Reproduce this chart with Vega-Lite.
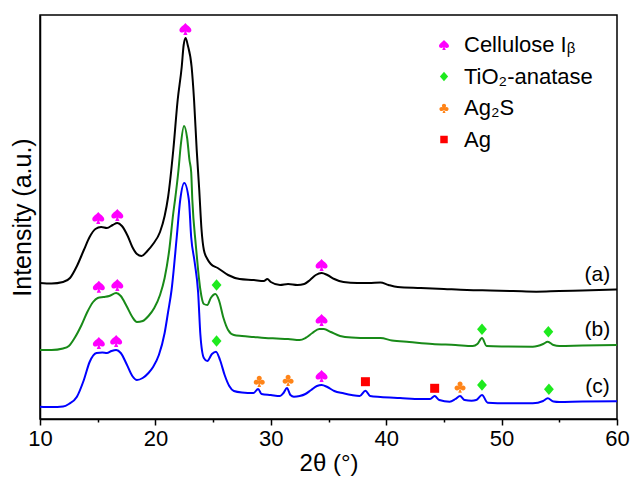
{
  "$schema": "https://vega.github.io/schema/vega-lite/v6.json",
  "width": 577,
  "height": 404,
  "autosize": {"type": "none"},
  "padding": {"left": 40, "top": 15, "right": 16, "bottom": 69},
  "config": {
    "font": "Liberation Sans",
    "view": {"stroke": "black", "strokeWidth": 1.5}
  },
  "datasets": {
    "curves": [
      {"s":"a","x":10,"y":136},{"s":"a","x":11,"y":135.5},{"s":"a","x":12,"y":137},{"s":"a","x":12.6,"y":141},{"s":"a","x":13.2,"y":153},{"s":"a","x":13.8,"y":169},{"s":"a","x":14.3,"y":182},{"s":"a","x":14.8,"y":190},{"s":"a","x":15.3,"y":192},{"s":"a","x":15.8,"y":191},{"s":"a","x":16.3,"y":194},{"s":"a","x":16.7,"y":196},{"s":"a","x":17.1,"y":193},{"s":"a","x":17.6,"y":183},{"s":"a","x":18.0,"y":172},{"s":"a","x":18.4,"y":165},{"s":"a","x":18.8,"y":163},{"s":"a","x":19.3,"y":168},{"s":"a","x":19.8,"y":175},{"s":"a","x":20.4,"y":187},{"s":"a","x":20.8,"y":203},{"s":"a","x":21.1,"y":222},{"s":"a","x":21.55,"y":269},{"s":"a","x":21.93,"y":319},{"s":"a","x":22.28,"y":352},{"s":"a","x":22.45,"y":374},{"s":"a","x":22.62,"y":381},{"s":"a","x":22.8,"y":374},{"s":"a","x":23.14,"y":352},{"s":"a","x":23.35,"y":319},{"s":"a","x":23.58,"y":269},{"s":"a","x":23.8,"y":229},{"s":"a","x":24.0,"y":189},{"s":"a","x":24.2,"y":169},{"s":"a","x":24.5,"y":160},{"s":"a","x":24.8,"y":155},{"s":"a","x":25.4,"y":151},{"s":"a","x":26.3,"y":144},{"s":"a","x":27.3,"y":140},{"s":"a","x":28.5,"y":139},{"s":"a","x":29.4,"y":138},{"s":"a","x":29.7,"y":140},{"s":"a","x":30.0,"y":137},{"s":"a","x":30.8,"y":134},{"s":"a","x":31.5,"y":135},{"s":"a","x":32.3,"y":134},{"s":"a","x":32.9,"y":135},{"s":"a","x":33.4,"y":139},{"s":"a","x":33.9,"y":144},{"s":"a","x":34.4,"y":146},{"s":"a","x":34.9,"y":144},{"s":"a","x":35.5,"y":140},{"s":"a","x":36.3,"y":137},{"s":"a","x":37.5,"y":136},{"s":"a","x":38.5,"y":136},{"s":"a","x":39.5,"y":136.5},{"s":"a","x":40.2,"y":134},{"s":"a","x":41,"y":132},{"s":"a","x":43,"y":131},{"s":"a","x":45,"y":130},{"s":"a","x":47,"y":129},{"s":"a","x":49,"y":128.5},{"s":"a","x":51,"y":128},{"s":"a","x":53,"y":127.3},{"s":"a","x":55,"y":128},{"s":"a","x":57,"y":128.5},{"s":"a","x":60,"y":129.5},
      {"s":"b","x":10,"y":69},{"s":"b","x":11,"y":69},{"s":"b","x":12,"y":70.5},{"s":"b","x":12.5,"y":73},{"s":"b","x":13,"y":81},{"s":"b","x":13.6,"y":94},{"s":"b","x":14.1,"y":107},{"s":"b","x":14.6,"y":117},{"s":"b","x":15.0,"y":121},{"s":"b","x":15.5,"y":122},{"s":"b","x":16.0,"y":123},{"s":"b","x":16.6,"y":126},{"s":"b","x":17.0,"y":123},{"s":"b","x":17.5,"y":113},{"s":"b","x":18.0,"y":102},{"s":"b","x":18.4,"y":97},{"s":"b","x":18.9,"y":98},{"s":"b","x":19.4,"y":103},{"s":"b","x":19.9,"y":111},{"s":"b","x":20.4,"y":124},{"s":"b","x":20.8,"y":141},{"s":"b","x":21.2,"y":169},{"s":"b","x":21.55,"y":206},{"s":"b","x":21.7,"y":219},{"s":"b","x":22.0,"y":249},{"s":"b","x":22.2,"y":274},{"s":"b","x":22.48,"y":293},{"s":"b","x":22.75,"y":281},{"s":"b","x":22.95,"y":259},{"s":"b","x":23.1,"y":247},{"s":"b","x":23.2,"y":219},{"s":"b","x":23.5,"y":174},{"s":"b","x":23.7,"y":149},{"s":"b","x":23.9,"y":129},{"s":"b","x":24.2,"y":115},{"s":"b","x":24.5,"y":114},{"s":"b","x":24.8,"y":121},{"s":"b","x":25.2,"y":125},{"s":"b","x":25.5,"y":119},{"s":"b","x":25.9,"y":101},{"s":"b","x":26.3,"y":89},{"s":"b","x":26.8,"y":84},{"s":"b","x":27.5,"y":83},{"s":"b","x":28.5,"y":82},{"s":"b","x":29.5,"y":81},{"s":"b","x":30.5,"y":80.5},{"s":"b","x":31.5,"y":80},{"s":"b","x":32.5,"y":79},{"s":"b","x":33.0,"y":81},{"s":"b","x":33.6,"y":86},{"s":"b","x":34.2,"y":90},{"s":"b","x":34.6,"y":90},{"s":"b","x":35.2,"y":87},{"s":"b","x":36.0,"y":83},{"s":"b","x":37.0,"y":81.5},{"s":"b","x":38.5,"y":81},{"s":"b","x":39.5,"y":81},{"s":"b","x":40.5,"y":78.5},{"s":"b","x":42,"y":77},{"s":"b","x":44,"y":75},{"s":"b","x":46,"y":74},{"s":"b","x":47.5,"y":73},{"s":"b","x":47.9,"y":75},{"s":"b","x":48.3,"y":81},{"s":"b","x":48.7,"y":73},{"s":"b","x":50,"y":72.5},{"s":"b","x":52.7,"y":72.3},{"s":"b","x":53.6,"y":75},{"s":"b","x":54.0,"y":77.3},{"s":"b","x":54.5,"y":74},{"s":"b","x":55,"y":73},{"s":"b","x":57,"y":73.5},{"s":"b","x":60,"y":74},
      {"s":"c","x":10,"y":12.3},{"s":"c","x":11,"y":12},{"s":"c","x":12,"y":12.5},{"s":"c","x":12.5,"y":15},{"s":"c","x":13.2,"y":22.3},{"s":"c","x":13.8,"y":39},{"s":"c","x":14.3,"y":57},{"s":"c","x":14.9,"y":66},{"s":"c","x":15.4,"y":66.5},{"s":"c","x":15.8,"y":66},{"s":"c","x":16.2,"y":68},{"s":"c","x":16.6,"y":69},{"s":"c","x":17.0,"y":66},{"s":"c","x":17.5,"y":55},{"s":"c","x":18.0,"y":43},{"s":"c","x":18.4,"y":39},{"s":"c","x":18.9,"y":41},{"s":"c","x":19.4,"y":46},{"s":"c","x":19.8,"y":52},{"s":"c","x":20.3,"y":64},{"s":"c","x":20.8,"y":86},{"s":"c","x":21.1,"y":107},{"s":"c","x":21.4,"y":129},{"s":"c","x":21.85,"y":182},{"s":"c","x":22.15,"y":219},{"s":"c","x":22.5,"y":236},{"s":"c","x":22.9,"y":219},{"s":"c","x":23.1,"y":182},{"s":"c","x":23.4,"y":157},{"s":"c","x":23.7,"y":127},{"s":"c","x":23.9,"y":84},{"s":"c","x":24.2,"y":61},{"s":"c","x":24.5,"y":58},{"s":"c","x":24.9,"y":65},{"s":"c","x":25.25,"y":67.3},{"s":"c","x":25.6,"y":59},{"s":"c","x":26.0,"y":44},{"s":"c","x":26.4,"y":33},{"s":"c","x":26.8,"y":28},{"s":"c","x":27.5,"y":26.5},{"s":"c","x":28.5,"y":26},{"s":"c","x":28.9,"y":30},{"s":"c","x":29.2,"y":25},{"s":"c","x":30.0,"y":24},{"s":"c","x":30.8,"y":23},{"s":"c","x":31.1,"y":26},{"s":"c","x":31.4,"y":31},{"s":"c","x":31.7,"y":24},{"s":"c","x":32.0,"y":22.3},{"s":"c","x":32.5,"y":23},{"s":"c","x":33.0,"y":25},{"s":"c","x":33.5,"y":29},{"s":"c","x":34.0,"y":33},{"s":"c","x":34.4,"y":34},{"s":"c","x":34.9,"y":32},{"s":"c","x":35.5,"y":28},{"s":"c","x":36.3,"y":25.7},{"s":"c","x":37.0,"y":24},{"s":"c","x":37.7,"y":23},{"s":"c","x":38.2,"y":28.3},{"s":"c","x":38.6,"y":23},{"s":"c","x":39.5,"y":22},{"s":"c","x":41.2,"y":21},{"s":"c","x":43.0,"y":20},{"s":"c","x":43.8,"y":20},{"s":"c","x":44.2,"y":23},{"s":"c","x":44.6,"y":19},{"s":"c","x":45.5,"y":17.3},{"s":"c","x":46.0,"y":20},{"s":"c","x":46.4,"y":23},{"s":"c","x":46.8,"y":19},{"s":"c","x":47.4,"y":18.3},{"s":"c","x":47.8,"y":19},{"s":"c","x":48.3,"y":24},{"s":"c","x":48.8,"y":16.3},{"s":"c","x":50.5,"y":15.7},{"s":"c","x":52.7,"y":15.7},{"s":"c","x":53.6,"y":18},{"s":"c","x":54.0,"y":20.7},{"s":"c","x":54.5,"y":17.5},{"s":"c","x":55,"y":17},{"s":"c","x":57,"y":17.5},{"s":"c","x":60,"y":17.7}
    ],
    "markers": [
      {"phase":"Cellulose Iᵦ","x":15.05,"y":201},{"phase":"Cellulose Iᵦ","x":16.7,"y":204},{"phase":"Cellulose Iᵦ","x":22.6,"y":390},{"phase":"Cellulose Iᵦ","x":34.4,"y":154},
      {"phase":"Cellulose Iᵦ","x":15.1,"y":132.3},{"phase":"Cellulose Iᵦ","x":16.7,"y":134},{"phase":"Cellulose Iᵦ","x":34.4,"y":99},
      {"phase":"Cellulose Iᵦ","x":15.1,"y":76},{"phase":"Cellulose Iᵦ","x":16.6,"y":78},{"phase":"Cellulose Iᵦ","x":34.4,"y":43},
      {"phase":"TiO₂-anatase","x":25.3,"y":134},{"phase":"TiO₂-anatase","x":48.3,"y":89.7},{"phase":"TiO₂-anatase","x":54.05,"y":87.3},
      {"phase":"TiO₂-anatase","x":25.3,"y":78},{"phase":"TiO₂-anatase","x":48.3,"y":34},{"phase":"TiO₂-anatase","x":54.1,"y":29.7},
      {"phase":"Ag₂S","x":29.0,"y":38},{"phase":"Ag₂S","x":31.5,"y":39},{"phase":"Ag₂S","x":46.4,"y":32.3},
      {"phase":"Ag","x":38.2,"y":37.3},{"phase":"Ag","x":44.2,"y":30.7}
    ],
    "labels": [
      {"x":58.3,"y":144,"t":"(a)"},{"x":58.3,"y":89,"t":"(b)"},{"x":58.3,"y":32.3,"t":"(c)"}
    ]
  },
  "layer": [
    {
      "data": {"name": "curves"},
      "mark": {"type": "line", "strokeWidth": 2, "interpolate": "monotone"},
      "encoding": {
        "x": {"field": "x", "type": "quantitative", "scale": {"domain": [10, 60], "nice": false},
          "axis": {"title": "2θ (°)", "values": [10,15,20,25,30,35,40,45,50,55,60],
            "labelExpr": "datum.value % 10 === 0 ? datum.label : ''",
            "labelOverlap": false, "labelFlush": false,
            "tickSize": {"condition": {"test": "datum.value % 10 === 0", "value": 6}, "value": 3},
            "tickColor": "black", "tickWidth": 1.5, "domainColor": "black", "domainWidth": 1.5,
            "labelFontSize": 22, "labelColor": "black", "labelPadding": 3,
            "titleFontSize": 24, "titleFontWeight": "normal", "titleColor": "black", "titlePadding": 2,
            "grid": false}},
        "y": {"field": "y", "type": "quantitative", "scale": {"domain": [0, 404], "nice": false},
          "axis": {"title": "Intensity (a.u.)", "labels": false, "ticks": false, "grid": false,
            "domainColor": "black", "domainWidth": 1.5,
            "titleFontSize": 25, "titleFontWeight": "normal", "titleColor": "black", "titlePadding": 5}},
        "stroke": {"field": "s", "type": "nominal",
          "scale": {"domain": ["a","b","c"], "range": ["#000000","#188a18","#0000ff"]}, "legend": null},
        "detail": {"field": "s"}
      }
    },
    {
      "data": {"name": "markers"},
      "mark": {"type": "point", "filled": true, "opacity": 1, "strokeWidth": 0, "size": 144},
      "encoding": {
        "x": {"field": "x", "type": "quantitative"},
        "y": {"field": "y", "type": "quantitative"},
        "shape": {"field": "phase", "type": "nominal",
          "scale": {"domain": ["Cellulose Iᵦ","TiO₂-anatase","Ag₂S","Ag"],
            "range": [
              "M0,-1C0.35,-0.55 1,-0.25 1,0.2C1,0.6 0.45,0.75 0.12,0.42L0.35,1L-0.35,1L-0.12,0.42C-0.45,0.75 -1,0.6 -1,0.2C-1,-0.25 -0.35,-0.55 0,-1Z",
              "M0,-0.95L0.82,0L0,0.95L-0.82,0Z",
              "M-0.42,-0.45A0.42,0.42 0 1,1 0.42,-0.45A0.42,0.42 0 1,1 -0.42,-0.45ZM-0.92,0.2A0.42,0.42 0 1,1 -0.08,0.2A0.42,0.42 0 1,1 -0.92,0.2ZM0.08,0.2A0.42,0.42 0 1,1 0.92,0.2A0.42,0.42 0 1,1 0.08,0.2ZM0,-0.3L0.3,0.2L0,0.5L-0.3,0.2ZM0,0.2L0.3,1L-0.3,1Z",
              "M-0.75,-0.75L0.75,-0.75L0.75,0.75L-0.75,0.75Z"]},
          "legend": {"title": null, "orient": "none", "legendX": 393, "legendY": 19,
            "labelFontSize": 22, "labelColor": "black", "labelFont": "Liberation Sans",
            "symbolSize": 100, "symbolStrokeWidth": 0, "rowPadding": 9.5, "labelOffset": 9, "padding": 0}},
        "fill": {"field": "phase", "type": "nominal",
          "scale": {"domain": ["Cellulose Iᵦ","TiO₂-anatase","Ag₂S","Ag"],
            "range": ["#ff00ff","#1eea1e","#ff8418","#ff0000"]},
          "legend": {"title": null, "orient": "none", "legendX": 393, "legendY": 19,
            "labelFontSize": 22, "labelColor": "black", "labelFont": "Liberation Sans",
            "symbolSize": 100, "symbolStrokeWidth": 0, "rowPadding": 9.5, "labelOffset": 9, "padding": 0}}
      }
    },
    {
      "data": {"name": "labels"},
      "mark": {"type": "text", "fontSize": 21, "align": "center", "baseline": "middle", "color": "black"},
      "encoding": {
        "x": {"field": "x", "type": "quantitative"},
        "y": {"field": "y", "type": "quantitative"},
        "text": {"field": "t"}
      }
    }
  ]
}
